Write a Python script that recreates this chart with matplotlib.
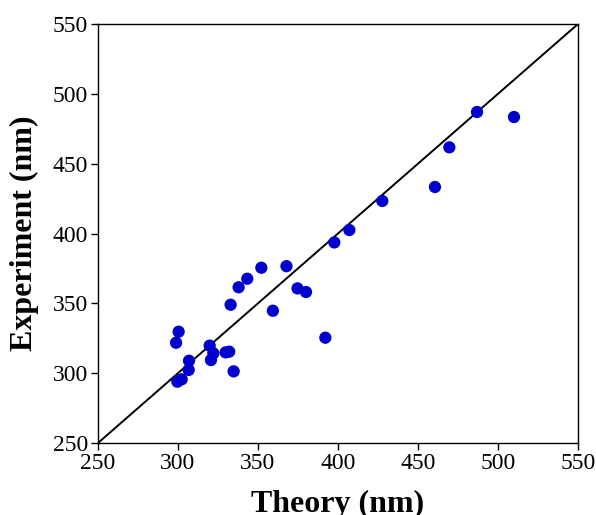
import matplotlib.pyplot as plt

# valeurs (nm)
theorie = [486.9, 510.0, 469.6, 460.6, 427.7, 407.1, 397.7, 380.0, 374.7, 392.1,
           352.1, 367.8, 343.3, 337.9, 332.9, 359.3, 300.4, 298.8, 319.8, 322.1,
           320.6, 329.8, 332.0, 306.9, 306.7, 334.8, 299.6, 302.3]
experience = [487.0, 483.4, 461.7, 433.3, 423.3, 402.5, 393.6, 358.1, 360.7, 325.4,
              375.5, 376.6, 367.6, 361.5, 349.0, 344.7, 329.7, 321.8, 319.7, 314.2,
              309.4, 314.9, 315.4, 308.9, 302.3, 301.3, 293.9, 295.6]

limites = [250, 550]
graduations = [250, 300, 350, 400, 450, 500, 550]

plt.rcParams['font.family'] = ['Liberation Serif', 'DejaVu Serif']

fig = plt.figure(figsize=(5.96, 5.15), dpi=100)
ax = fig.add_axes([0.1644, 0.1398, 0.8054, 0.8136])

ax.plot(limites, limites, color='black', linewidth=1.4, zorder=1)
ax.scatter(theorie, experience, s=78, color='#0000CD', edgecolors='none', zorder=2)

ax.set_xlim(limites)
ax.set_ylim(limites)
ax.set_xticks(graduations)
ax.set_yticks(graduations)
ax.tick_params(direction='out', length=5, width=1, labelsize=17, top=False, right=False, pad=2)

for s in ax.spines.values():
    s.set_linewidth(1.0)

ax.set_xlabel("Theory (nm)", fontsize=23, fontweight='bold', labelpad=12)
ax.set_ylabel("Experiment (nm)", fontsize=23, fontweight='bold', labelpad=10)

fig.savefig("out.png", dpi=100)
